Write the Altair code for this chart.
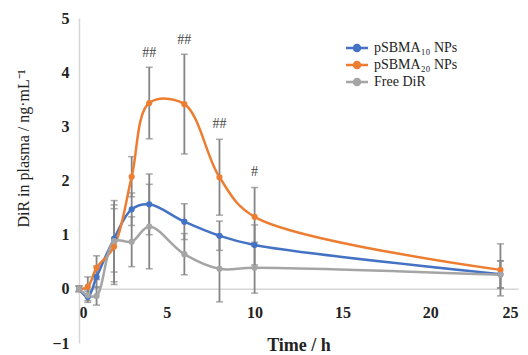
import altair as alt
import pandas as pd

# ---- data ----
times = [0, 0.5, 1, 2, 3, 4, 6, 8, 10, 24]
series_names = ["pSBMA₁₀ NPs", "pSBMA₂₀ NPs", "Free DiR"]
blue_mean = [0.0, -0.15, 0.22, 0.93, 1.47, 1.56, 1.24, 0.98, 0.81, 0.27]
blue_sd = [0.05, 0.10, 0.20, 0.62, 0.30, 0.56, 0.33, 0.27, 0.37, 0.25]
orange_mean = [0.0, 0.04, 0.39, 0.78, 2.07, 3.43, 3.41, 2.06, 1.33, 0.35]
orange_sd = [0.05, 0.18, 0.22, 0.70, 0.37, 0.66, 0.92, 0.70, 0.54, 0.48]
gray_mean = [0.0, -0.12, -0.13, 0.88, 0.87, 1.15, 0.64, 0.37, 0.39, 0.26]
gray_sd = [0.05, 0.10, 0.17, 0.75, 0.46, 0.78, 0.38, 0.61, 0.47, 0.25]
colors = ["#4472C4", "#ED7D31", "#A5A5A5"]

annot_t = [4, 6, 8, 10]
annot_y = [4.36, 4.59, 3.05, 2.15]
annot_text = ["##", "##", "##", "#"]

x_ticks = [0, 5, 10, 15, 20, 25]
y_ticks = [-1, 0, 1, 2, 3, 4, 5]

rows = []
for name, means, sds in zip(series_names, [blue_mean, orange_mean, gray_mean],
                            [blue_sd, orange_sd, gray_sd]):
    for t, m, s in zip(times, means, sds):
        rows.append({"series": name, "t": t, "v": m, "lo": m - s, "hi": m + s,
                     "order": series_names.index(name)})
df = pd.DataFrame(rows)
ann = pd.DataFrame({"t": annot_t, "y": annot_y, "label": annot_text})

FONT = "Liberation Serif"
W, H = 439, 325

xscale = alt.Scale(domain=[0, 25], nice=False, zero=False)
yscale = alt.Scale(domain=[-1, 5], nice=False, zero=False)

base = alt.Chart(df)

x_enc = alt.X("t:Q", scale=xscale,
              axis=alt.Axis(values=x_ticks, title="Time / h", ticks=False, format="d",
                            grid=False, domainColor="#d6d6d6", domainWidth=1.5,
                            offset=-H / 6, labelPadding=16, titlePadding=16,
                            labelFont=FONT, labelFontSize=16, labelFontWeight="bold",
                            labelColor="#222", titleFont=FONT, titleFontSize=18,
                            titleFontWeight="bold", titleColor="#222"))
y_enc = alt.Y("v:Q", scale=yscale,
              axis=alt.Axis(values=y_ticks, title="DiR in plasma / ng·mL⁻¹", format="d",
                            ticks=False, grid=False, domainColor="#d6d6d6",
                            domainWidth=1.5, labelPadding=10,
                            titleX=-48, titleY=130, titleAngle=270,
                            titleAlign="center", titleBaseline="bottom",
                            labelFont=FONT, labelFontSize=16, labelFontWeight="bold",
                            labelColor="#222", titleFont=FONT, titleFontSize=16,
                            titleFontWeight="normal", titleColor="#222"))

err_color = "#858585"
rules = base.mark_rule(color=err_color, strokeWidth=1.8).encode(
    x=alt.X("t:Q", scale=xscale), y=alt.Y("lo:Q", scale=yscale), y2="hi:Q")
cap_lo = base.mark_tick(color=err_color, orient="horizontal", size=7, thickness=1.5).encode(
    x=alt.X("t:Q", scale=xscale), y=alt.Y("lo:Q", scale=yscale))
cap_hi = base.mark_tick(color=err_color, orient="horizontal", size=7, thickness=1.5).encode(
    x=alt.X("t:Q", scale=xscale), y=alt.Y("hi:Q", scale=yscale))

color_enc = alt.Color("series:N",
                      scale=alt.Scale(domain=series_names, range=colors),
                      legend=alt.Legend(
                          title=None, orient="none", legendX=271, legendY=23,
                          labelFont=FONT, labelFontSize=14, labelColor="#222",
                          symbolType="M-2.2,0H2.2M-0.6,0a0.6,0.6 0 1,0 1.2,0a0.6,0.6 0 1,0 -1.2,0",
                          symbolSize=100, symbolStrokeWidth=2.5,
                          rowPadding=1, labelOffset=10))

lines = base.mark_line(interpolate="catmull-rom", strokeWidth=2.5).encode(
    x=x_enc, y=y_enc, color=color_enc, order="order:Q", detail="series:N")
points = base.mark_point(filled=True, size=38, opacity=1).encode(
    x=alt.X("t:Q", scale=xscale), y=alt.Y("v:Q", scale=yscale),
    color=alt.Color("series:N", scale=alt.Scale(domain=series_names, range=colors),
                    legend=None))

texts = alt.Chart(ann).mark_text(font=FONT, fontSize=14, color="#444",
                                 baseline="middle").encode(
    x=alt.X("t:Q", scale=xscale), y=alt.Y("y:Q", scale=yscale), text="label:N")

chart = alt.layer(rules, cap_lo, cap_hi, lines, points, texts).properties(
    width=W, height=H,
    autosize=alt.AutoSizeParams(type="none"),
    padding={"left": 71, "top": 10, "right": 2, "bottom": 12},
    background="white",
).configure_view(stroke=None)

chart.save("out.html", embed_options={"renderer": "svg", "actions": False})
